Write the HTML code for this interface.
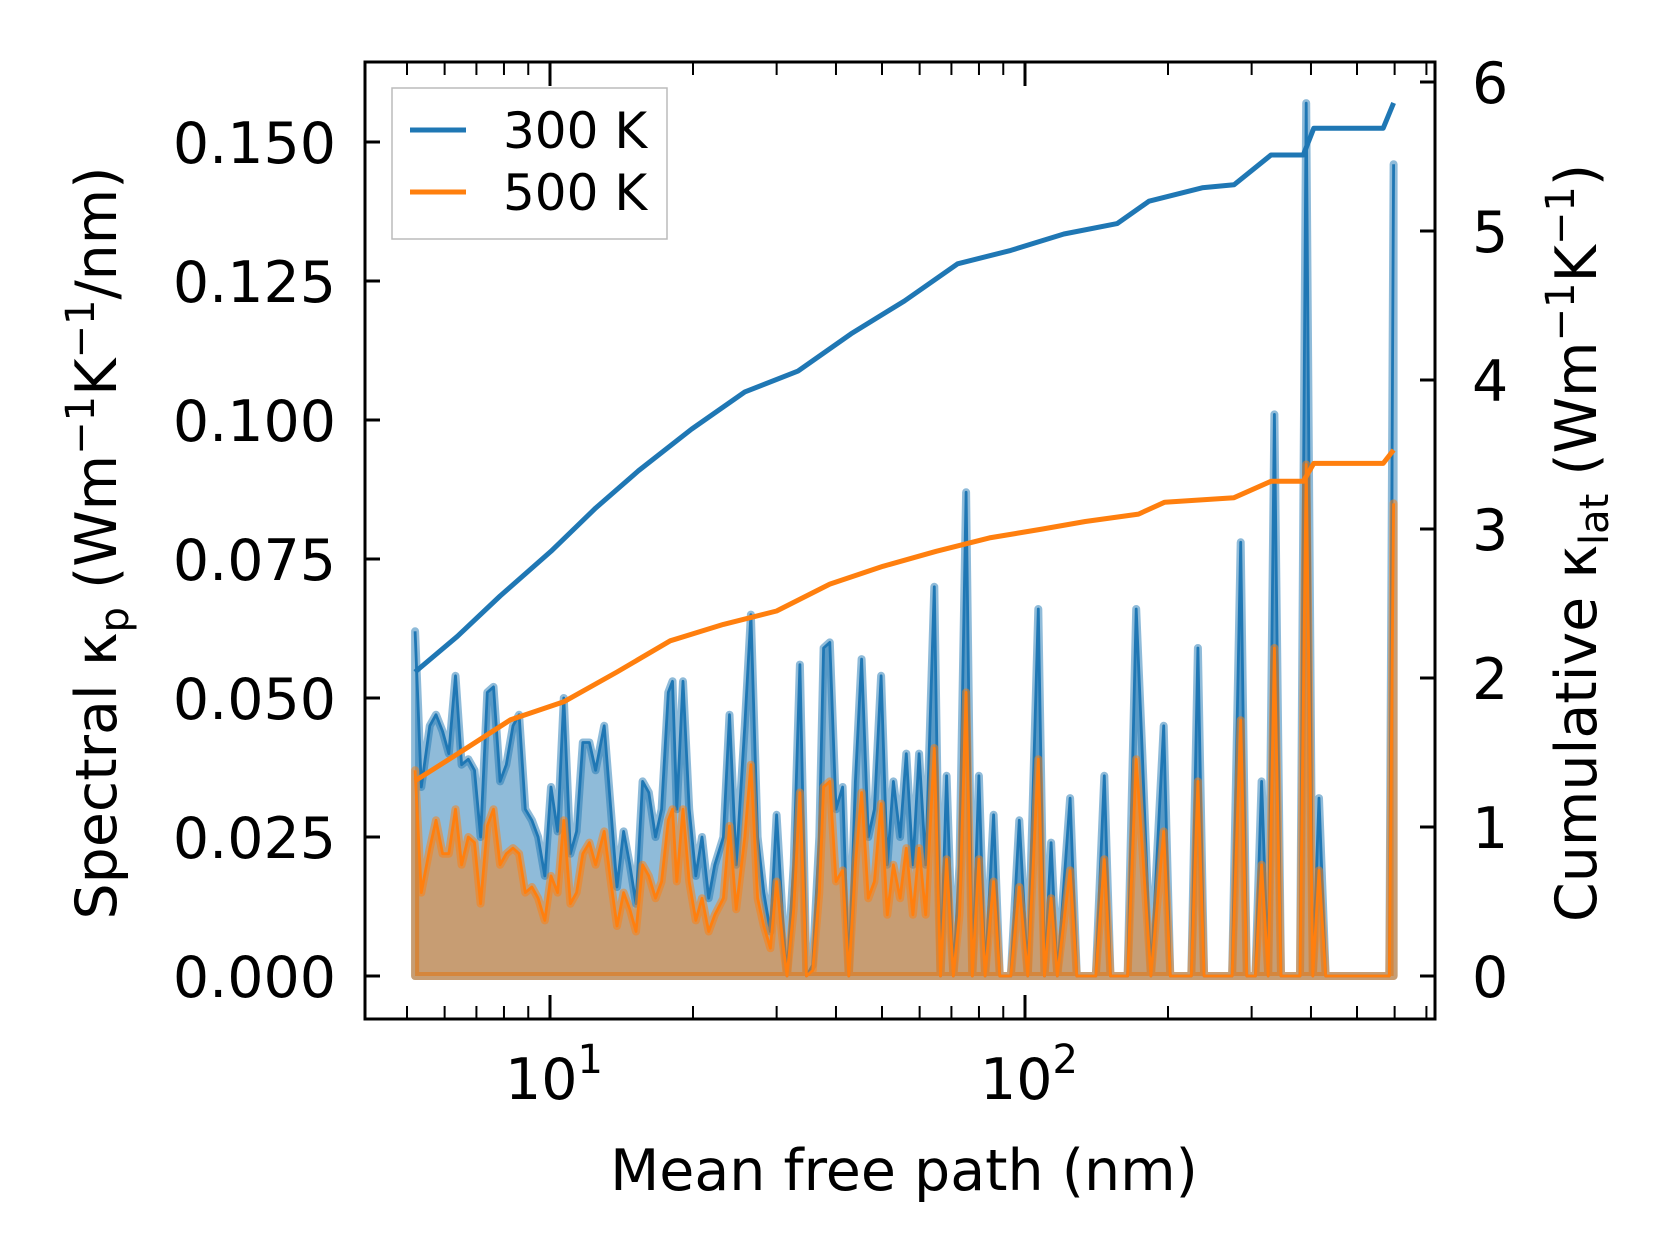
<!DOCTYPE html>
<html><head><meta charset="utf-8"><style>
html,body{margin:0;padding:0;background:#fff;}
svg{display:block;font-family:"DejaVu Sans","Liberation Sans",sans-serif;}
</style></head><body>
<svg id="chart" width="1660" height="1257" viewBox="0 0 1660 1257">
<g id="plot"></g>
</svg>
<script>
// spectral data (log10 of mean free path in nm)
const specLogX = [0.716,0.729,0.747,0.760,0.774,0.787,0.801,0.814,0.828,0.841,0.854,0.868,0.881,0.895,0.908,0.922,0.935,0.948,0.962,0.975,0.989,1.002,1.016,1.029,1.043,1.056,1.069,1.083,1.096,1.114,1.128,1.141,1.155,1.168,1.181,1.195,1.208,1.222,1.235,1.249,1.258,1.267,1.280,1.293,1.307,1.320,1.334,1.347,1.365,1.378,1.392,1.410,1.423,1.437,1.450,1.464,1.477,1.490,1.499,1.513,1.526,1.540,1.553,1.567,1.576,1.589,1.602,1.616,1.629,1.643,1.656,1.670,1.683,1.697,1.710,1.723,1.737,1.750,1.764,1.777,1.791,1.809,1.822,1.835,1.849,1.862,1.876,1.889,1.903,1.916,1.934,1.947,1.970,1.988,2.006,2.028,2.041,2.055,2.068,2.095,2.109,2.149,2.167,2.180,2.216,2.234,2.247,2.265,2.292,2.306,2.350,2.364,2.377,2.436,2.454,2.467,2.485,2.498,2.512,2.525,2.539,2.579,2.592,2.606,2.619,2.633,2.767,2.776];
const spec300 = [0.062,0.034,0.045,0.047,0.044,0.040,0.054,0.038,0.039,0.037,0.025,0.051,0.052,0.035,0.038,0.045,0.047,0.030,0.028,0.025,0.018,0.034,0.026,0.050,0.022,0.026,0.042,0.042,0.037,0.045,0.030,0.016,0.026,0.020,0.013,0.035,0.033,0.025,0.030,0.051,0.053,0.030,0.053,0.030,0.018,0.025,0.014,0.020,0.025,0.047,0.020,0.045,0.065,0.025,0.015,0.008,0.029,0.010,0.000,0.020,0.056,0.000,0.002,0.025,0.059,0.060,0.030,0.034,0.000,0.035,0.057,0.025,0.030,0.054,0.020,0.035,0.025,0.040,0.020,0.040,0.020,0.070,0.000,0.036,0.000,0.020,0.087,0.000,0.036,0.000,0.029,0.000,0.000,0.028,0.000,0.066,0.000,0.024,0.000,0.032,0.000,0.000,0.036,0.000,0.000,0.066,0.040,0.000,0.045,0.000,0.000,0.059,0.000,0.000,0.078,0.000,0.000,0.035,0.000,0.101,0.000,0.000,0.157,0.000,0.032,0.000,0.000,0.146];
const spec500 = [0.037,0.015,0.023,0.028,0.022,0.022,0.030,0.020,0.025,0.024,0.013,0.027,0.030,0.020,0.022,0.023,0.022,0.015,0.016,0.014,0.010,0.018,0.015,0.028,0.013,0.015,0.022,0.024,0.020,0.026,0.017,0.009,0.015,0.012,0.008,0.020,0.018,0.014,0.017,0.028,0.030,0.017,0.030,0.017,0.010,0.014,0.008,0.011,0.014,0.027,0.012,0.025,0.038,0.014,0.009,0.005,0.017,0.006,0.000,0.012,0.033,0.000,0.001,0.015,0.034,0.035,0.017,0.019,0.000,0.020,0.033,0.014,0.017,0.031,0.011,0.020,0.014,0.023,0.011,0.023,0.011,0.041,0.000,0.021,0.000,0.011,0.051,0.000,0.021,0.000,0.017,0.000,0.000,0.016,0.000,0.039,0.000,0.014,0.000,0.019,0.000,0.000,0.021,0.000,0.000,0.039,0.023,0.000,0.026,0.000,0.000,0.035,0.000,0.000,0.046,0.000,0.000,0.020,0.000,0.059,0.000,0.000,0.092,0.000,0.019,0.000,0.000,0.085];
// cumulative
const cum300LogX = [0.716,0.805,0.895,1.002,1.096,1.186,1.298,1.410,1.522,1.634,1.746,1.858,1.970,2.082,2.194,2.261,2.373,2.440,2.518,2.586,2.608,2.754,2.776];
const cum300 = [2.04,2.28,2.55,2.85,3.14,3.39,3.67,3.92,4.06,4.31,4.53,4.78,4.87,4.98,5.05,5.20,5.29,5.31,5.51,5.51,5.69,5.69,5.86];
const cum500LogX = [0.716,0.805,0.917,1.029,1.141,1.253,1.365,1.477,1.589,1.701,1.813,1.925,2.037,2.127,2.239,2.294,2.440,2.518,2.586,2.608,2.754,2.776];
const cum500 = [1.31,1.49,1.72,1.84,2.04,2.25,2.36,2.45,2.63,2.75,2.85,2.94,3.00,3.05,3.10,3.18,3.21,3.32,3.32,3.44,3.44,3.53];
const leftTicks = ["0.000","0.025","0.050","0.075","0.100","0.125","0.150"];
const rightTicks = ["0","1","2","3","4","5","6"];
const xMajor = [1,2];

const L=365,R=1435,T=62,B=1019;
const xs = lg => 550 + (lg-1)*475;
const yl = v => 976 - v/0.025*139;
const yr = v => 976 - v*149;
const NS="http://www.w3.org/2000/svg";
const g=document.getElementById('plot');
function mk(tag,attrs,parent){const e=document.createElementNS(NS,tag);for(const k in attrs)e.setAttribute(k,attrs[k]);(parent||g).appendChild(e);return e;}

function area(vals, fill, line, name){
  let pts=[[xs(specLogX[0]),yl(0)]];
  specLogX.forEach((lx,i)=>pts.push([xs(lx),yl(vals[i])]));
  pts.push([xs(specLogX[specLogX.length-1]),yl(0)]);
  const d="M"+pts.map(p=>p[0].toFixed(1)+","+p[1].toFixed(1)).join("L")+"Z";
  const a=mk('path',{d:d,fill:fill,stroke:fill,'stroke-width':8,'stroke-linejoin':'round'});
  
  
  const lp=specLogX.map((lx,i)=>xs(lx).toFixed(1)+","+yl(vals[i]).toFixed(1)).join(" ");
  const l=mk('polyline',{points:lp,fill:'none',stroke:line,'stroke-width':2.8,'stroke-linejoin':'round'});
  
  
}
area(spec300,'rgba(31,119,180,0.5)','#1f77b4','spectral-300k');
area(spec500,'rgba(255,127,14,0.5)','#ff7f0e','spectral-500k');

function cum(lx,vals,color,name){
  const p=lx.map((x,i)=>xs(x).toFixed(1)+","+yr(vals[i]).toFixed(1)).join(" ");
  const e=mk('polyline',{points:p,fill:'none',stroke:color,'stroke-width':5,'stroke-linejoin':'round'});
  
  
}
cum(cum300LogX,cum300,'#1f77b4','cumulative-300k-line');
cum(cum500LogX,cum500,'#ff7f0e','cumulative-500k-line');

// frame
const fr=mk('rect',{x:L,y:T,width:R-L,height:B-T,fill:'none',stroke:'#000','stroke-width':3});



// left ticks
leftTicks.forEach((t,i)=>{
  const y=yl(i*0.025);
  mk('line',{x1:L,x2:L+15,y1:y,y2:y,stroke:'#000','stroke-width':3});
  const tx=mk('text',{x:336,y:y+21,'text-anchor':'end','font-size':57},g);tx.textContent=t;
  
  
});
rightTicks.forEach((t,i)=>{
  const y=yr(i);
  mk('line',{x1:R-15,x2:R,y1:y,y2:y,stroke:'#000','stroke-width':3});
  const tx=mk('text',{x:1472,y:y+21,'font-size':57});tx.textContent=t;
  
  
});
// x ticks
for(let d=0;d<=2;d++){for(let m=1;m<=9;m++){
  const lg=d+Math.log10(m); const x=xs(lg);
  if(x<L||x>R)continue;
  const len=m===1?24:13, w=m===1?3:2;
  mk('line',{x1:x,x2:x,y1:B,y2:B-len,stroke:'#000','stroke-width':w});
  mk('line',{x1:x,x2:x,y1:T,y2:T+len,stroke:'#000','stroke-width':w});
}}
xMajor.forEach(p=>{
  const tx=mk('text',{x:xs(p)+4,y:1099,'text-anchor':'middle','font-size':57});
  
  
  tx.innerHTML='10<tspan dy="-26" font-size="40">'+p+'</tspan>';
});
</script>
<svg width="1660" height="1257" style="position:absolute;left:0;top:0" font-family="DejaVu Sans, Liberation Sans, sans-serif">
<text x="904" y="1190" text-anchor="middle" font-size="57">Mean free path (nm)</text>
<text transform="translate(116,543) rotate(-90)" text-anchor="middle" font-size="57">Spectral κ<tspan font-size="40" dy="12">p</tspan><tspan dy="-12"> (Wm</tspan><tspan font-size="40" dy="-22">−1</tspan><tspan dy="22">K</tspan><tspan font-size="40" dy="-22">−1</tspan><tspan dy="22">/nm)</tspan></text>
<text transform="translate(1596,543) rotate(-90)" text-anchor="middle" font-size="57">Cumulative κ<tspan font-size="40" dy="12">lat</tspan><tspan dy="-12"> (Wm</tspan><tspan font-size="40" dy="-22">−1</tspan><tspan dy="22">K</tspan><tspan font-size="40" dy="-22">−1</tspan><tspan dy="22">)</tspan></text>
<g>
<rect x="392" y="88" width="275" height="151" fill="#fff" stroke="#bbb" stroke-width="1.5"/>
<line x1="410" x2="466" y1="130" y2="130" stroke="#1f77b4" stroke-width="5"/>
<text x="503" y="148" font-size="50">300 K</text>
<line x1="410" x2="466" y1="192" y2="192" stroke="#ff7f0e" stroke-width="5"/>
<text x="503" y="210" font-size="50">500 K</text>
</g>
</svg>
</body></html>
